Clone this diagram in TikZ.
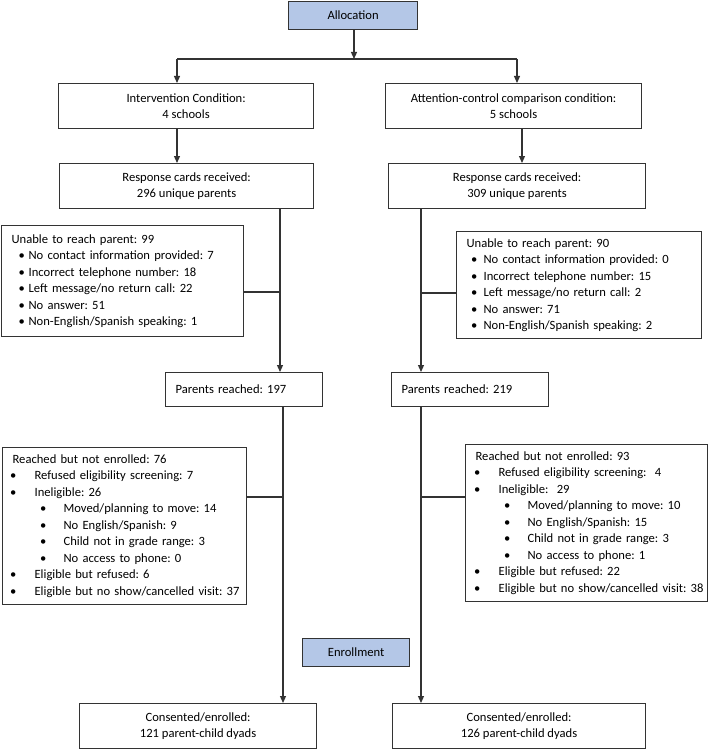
\documentclass[tikz,border=0pt]{standalone}
\usepackage{fontspec}
\setmainfont{Carlito}
\usetikzlibrary{arrows.meta}
\definecolor{hdrblue}{HTML}{B4C7E7}
\definecolor{edgegray}{HTML}{333333}
% bullet: indent, then box for the dot
\newcommand{\bl}[2]{\hspace*{#1}\makebox[#2][l]{\textbullet}}

\begin{document}
\frenchspacing
\begin{tikzpicture}[x=1pt, y=-1pt,
  font=\fontsize{12.6}{16.5}\selectfont,
  box/.style={draw=edgegray, line width=1.2pt, anchor=north west, inner sep=0pt, align=center},
  hdr/.style={box, fill=hdrblue},
  list/.style={draw=edgegray, line width=1.2pt, anchor=north west, inner xsep=10pt, inner ysep=0pt, align=left},
  arr/.style={draw=edgegray, line width=1.2pt, -{Triangle[length=7pt,width=6pt]}},
  link/.style={draw=edgegray, line width=1.2pt}]
  \useasboundingbox (0,0) rectangle (709,749);
  % headers
  \node[hdr, minimum width=129pt, minimum height=28pt] (alloc) at (288,1) {Allocation};
  \node[hdr, minimum width=107pt, minimum height=28pt] (enroll) at (302,638) {Enrollment};
  % arms
  \node[box, minimum width=255pt, minimum height=45pt] (ints) at (58,83)
    {Intervention Condition:\\4 schools};
  \node[box, minimum width=256pt, minimum height=45pt] (attn) at (385,83)
    {Attention-control comparison condition:\\5 schools};
  \node[box, minimum width=254pt, minimum height=45pt] (respL) at (59,163)
    {Response cards received:\\296 unique parents};
  \node[box, minimum width=257pt, minimum height=45pt] (respR) at (388,163)
    {Response cards received:\\309 unique parents};
  % unable to reach
  \node[list, text width=222pt, minimum height=111pt] (unL) at (1,225)
    {Unable to reach parent: 99\\
     \bl{7pt}{10pt}No contact information provided: 7\\
     \bl{7pt}{10pt}Incorrect telephone number: 18\\
     \bl{7pt}{10pt}Left message/no return call: 22\\
     \bl{7pt}{10pt}No answer: 51\\
     \bl{7pt}{10pt}Non-English/Spanish speaking: 1};
  \node[list, text width=225pt, minimum height=107pt] (unR) at (456,231)
    {Unable to reach parent: 90\\
     \bl{4.5pt}{12.5pt}No contact information provided: 0\\
     \bl{4.5pt}{12.5pt}Incorrect telephone number: 15\\
     \bl{4.5pt}{12.5pt}Left message/no return call: 2\\
     \bl{4.5pt}{12.5pt}No answer: 71\\
     \bl{4.5pt}{12.5pt}Non-English/Spanish speaking: 2};
  % reached
  \node[list, text width=137pt, minimum height=34pt] (parL) at (165,372) {Parents reached: 197};
  \node[list, text width=137pt, minimum height=34pt] (parR) at (391,372) {Parents reached: 219};
  \node[list, text width=224pt, minimum height=157pt] (reL) at (2,447)
    {Reached but not enrolled: 76\\
     \bl{-2.5pt}{24.5pt}Refused eligibility screening: 7\\
     \bl{-2.5pt}{24.5pt}Ineligible: 26\\
     \bl{27.5pt}{23.5pt}Moved/planning to move: 14\\
     \bl{27.5pt}{23.5pt}No English/Spanish: 9\\
     \bl{27.5pt}{23.5pt}Child not in grade range: 3\\
     \bl{27.5pt}{23.5pt}No access to phone: 0\\
     \bl{-2.5pt}{24.5pt}Eligible but refused: 6\\
     \bl{-2.5pt}{24.5pt}\mbox{Eligible but no show/cancelled visit: 37}};
  \node[list, text width=222pt, minimum height=157pt] (reR) at (465,444)
    {Reached but not enrolled: 93\\
     \bl{-1.5pt}{24.5pt}Refused eligibility screening:\ \ 4\\
     \bl{-1.5pt}{24.5pt}Ineligible:\ \ 29\\
     \bl{28.5pt}{23.5pt}Moved/planning to move: 10\\
     \bl{28.5pt}{23.5pt}No English/Spanish: 15\\
     \bl{28.5pt}{23.5pt}Child not in grade range: 3\\
     \bl{28.5pt}{23.5pt}No access to phone: 1\\
     \bl{-1.5pt}{24.5pt}Eligible but refused: 22\\
     \bl{-1.5pt}{24.5pt}\mbox{Eligible but no show/cancelled visit: 38}};
  % enrolled
  \node[box, minimum width=237pt, minimum height=45pt] (consL) at (79,703)
    {Consented/enrolled:\\121 parent-child dyads};
  \node[box, minimum width=253pt, minimum height=45pt] (consR) at (392,703)
    {Consented/enrolled:\\126 parent-child dyads};

  % split under allocation
  \coordinate (split) at (354,59);
  \coordinate (splitL) at (177,59);
  \coordinate (splitR) at (517,59);
  \draw[arr] (alloc.south -| split) -- (split);
  \draw[link] (splitL) -- (splitR);
  \draw[arr] (splitL) -- (splitL |- ints.north);
  \draw[arr] (splitR) -- (splitR |- attn.north);
  \coordinate (dropL) at (177,0);
  \coordinate (dropR) at (522,0);
  \draw[arr] (ints.south -| dropL) -- (respL.north -| dropL);
  \draw[arr] (attn.south -| dropR) -- (respR.north -| dropR);
  % trunks
  \coordinate (trkL) at (280,0);
  \coordinate (trkL2) at (283,0);
  \coordinate (trkR) at (421,0);
  \draw[arr] (respL.south -| trkL) -- (parL.north -| trkL);
  \draw[arr] (parL.south -| trkL2) -- (consL.north -| trkL2);
  \draw[arr] (respR.south -| trkR) -- (parR.north -| trkR);
  \draw[arr] (parR.south -| trkR) -- (consR.north -| trkR);
  % side branches
  \coordinate (tapUL) at (280,292);
  \coordinate (tapUR) at (421,293);
  \coordinate (tapRL) at (283,497);
  \coordinate (tapRR) at (421,497);
  \draw[link] (unL.east |- tapUL) -- (tapUL);
  \draw[link] (unR.west |- tapUR) -- (tapUR);
  \draw[link] (reL.east |- tapRL) -- (tapRL);
  \draw[link] (reR.west |- tapRR) -- (tapRR);
\end{tikzpicture}
\end{document}
